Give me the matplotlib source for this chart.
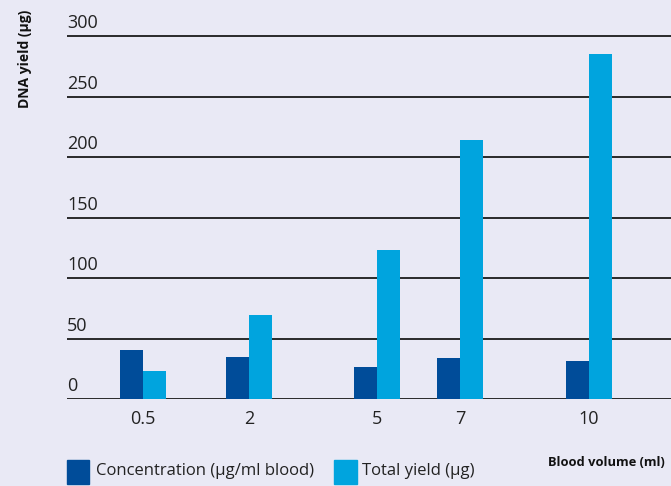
import matplotlib.pyplot as plt
from matplotlib.patches import Rectangle

# data
volumes = ['0.5', '2', '5', '7', '10']
concentration = [40.5, 34.7, 26.4, 33.9, 31.4]
total_yield = [23.1, 69.4, 123, 214, 285]
y_ticks = [0, 50, 100, 150, 200, 250, 300]

# uneven group spacing as in the original figure
x_pos = [76, 182, 310, 393, 522]
bar_w = 23

dark = '#004C99'
light = '#00A4DE'
bg = '#E9E9F5'

plt.rcParams['font.family'] = ['Open Sans', 'DejaVu Sans']

fig = plt.figure(figsize=(6.71, 4.86), dpi=100, facecolor=bg)
ax = fig.add_axes([67 / 671, (486 - 399) / 486, 1 - 67 / 671, (399 - 30) / 486])
ax.set_facecolor(bg)
ax.set_xlim(0, 604)
ax.set_ylim(0, 305)

for y in y_ticks:
    ax.axhline(y, color='#1a1a1a', lw=1.3, zorder=1)

ax.bar([x - bar_w / 2 for x in x_pos], concentration, width=bar_w, color=dark, zorder=2)
ax.bar([x + bar_w / 2 for x in x_pos], total_yield, width=bar_w, color=light, zorder=2)

for s in ax.spines.values():
    s.set_visible(False)
ax.set_xticks([])
ax.set_yticks([])

# y tick labels sit above the gridlines, left aligned
for y in y_ticks:
    ax.text(0, y + 3, str(y), ha='left', va='bottom', fontsize=13, color='#222222')

# x tick labels
for x, lab in zip(x_pos, volumes):
    ax.text(x, -9, lab, ha='center', va='top', fontsize=13, color='#222222')

fig.text(25 / 671, 1 - 10 / 486, 'DNA yield (µg)', rotation=90, ha='center', va='top',
         fontsize=10, fontweight='bold', color='#111111')
fig.text(548 / 671, 1 - 462 / 486, 'Blood volume (ml)', ha='left', va='center',
         fontsize=9.3, fontweight='bold', color='#111111')

# legend
fig.patches.append(Rectangle((67 / 671, 1 - 484 / 486), 22 / 671, 24 / 486,
                             transform=fig.transFigure, color=dark))
fig.text(96 / 671, 1 - 471 / 486, 'Concentration (µg/ml blood)', ha='left', va='center',
         fontsize=12, color='#222222')
fig.patches.append(Rectangle((334 / 671, 1 - 484 / 486), 23 / 671, 24 / 486,
                             transform=fig.transFigure, color=light))
fig.text(362 / 671, 1 - 471 / 486, 'Total yield (µg)', ha='left', va='center',
         fontsize=12, color='#222222')

fig.savefig('out.png', dpi=100, facecolor=bg)
